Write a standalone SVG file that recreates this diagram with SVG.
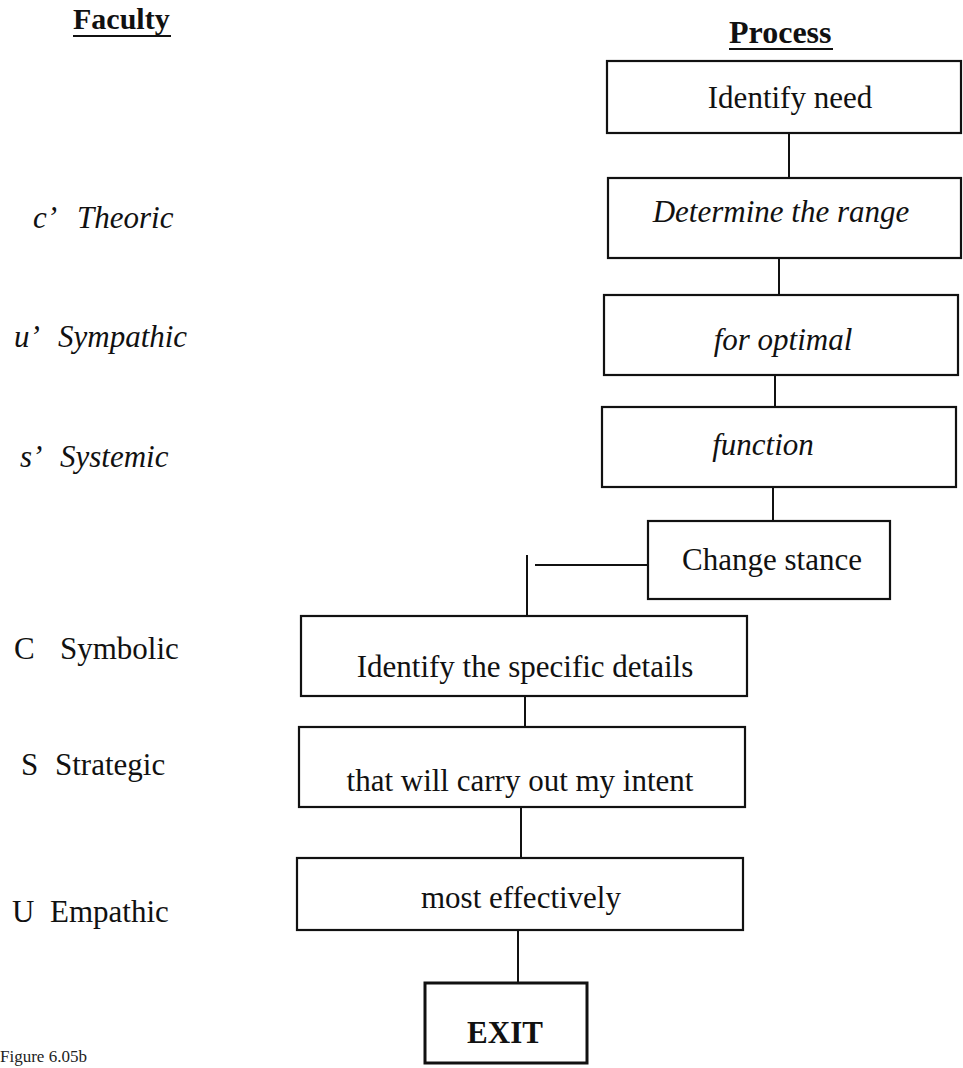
<svg xmlns="http://www.w3.org/2000/svg" width="963" height="1068" viewBox="0 0 963 1068">
  <style>
    .box { fill: #ffffff; stroke: #111111; stroke-width: 2.2; }
    .exit { fill: #ffffff; stroke: #111111; stroke-width: 3; }
    .wire { stroke: #111111; stroke-width: 2; fill: none; }
    .t { font-family: "Liberation Serif", "Times New Roman", serif; font-size: 31px; fill: #111111; }
    .it { font-style: italic; }
    .mid { text-anchor: middle; }
    .head { font-family: "Liberation Serif", "Times New Roman", serif; font-weight: bold; fill: #111111; }
    .rule { stroke: #111111; stroke-width: 2; }
    .cap { font-family: "Liberation Serif", "Times New Roman", serif; font-size: 17px; fill: #222222; }
  </style>

  <!-- column headings -->
  <g id="headings">
    <text class="head" x="73" y="29" font-size="30">Faculty</text>
    <line class="rule" x1="73" y1="36" x2="171" y2="36"/>
    <text class="head" x="729" y="43" font-size="32">Process</text>
    <line class="rule" x1="729" y1="49" x2="833" y2="49"/>
  </g>

  <!-- faculty labels -->
  <g id="faculties">
    <g id="fac-theoric"><text class="t it" x="33" y="228">c’</text><text class="t it" x="77" y="228">Theoric</text></g>
    <g id="fac-sympathic"><text class="t it" x="14" y="347">u’</text><text class="t it" x="58" y="347">Sympathic</text></g>
    <g id="fac-systemic"><text class="t it" x="20" y="467">s’</text><text class="t it" x="60" y="467">Systemic</text></g>
    <g id="fac-symbolic"><text class="t" x="14" y="659">C</text><text class="t" x="60" y="659">Symbolic</text></g>
    <g id="fac-strategic"><text class="t" x="21" y="775">S</text><text class="t" x="55" y="775">Strategic</text></g>
    <g id="fac-empathic"><text class="t" x="12" y="922">U</text><text class="t" x="50" y="922">Empathic</text></g>
  </g>

  <!-- connectors -->
  <g id="connectors">
    <line class="wire" x1="789" y1="133" x2="789" y2="178"/>
    <line class="wire" x1="779" y1="258" x2="779" y2="295"/>
    <line class="wire" x1="775" y1="375" x2="775" y2="407"/>
    <line class="wire" x1="773" y1="487" x2="773" y2="521"/>
    <line class="wire" x1="535" y1="565" x2="648" y2="565"/>
    <line class="wire" x1="527" y1="555" x2="527" y2="616"/>
    <line class="wire" x1="525" y1="696" x2="525" y2="727"/>
    <line class="wire" x1="521" y1="807" x2="521" y2="858"/>
    <line class="wire" x1="518" y1="930" x2="518" y2="983"/>
  </g>

  <!-- process steps -->
  <g id="step-identify-need">
    <rect class="box" x="607" y="61" width="354" height="72"/>
    <text class="t mid" x="790" y="108">Identify need</text>
  </g>
  <g id="step-determine-range">
    <rect class="box" x="608" y="178" width="353" height="80"/>
    <text class="t it mid" x="781" y="222">Determine the range</text>
  </g>
  <g id="step-for-optimal">
    <rect class="box" x="604" y="295" width="354" height="80"/>
    <text class="t it mid" x="783" y="350">for optimal</text>
  </g>
  <g id="step-function">
    <rect class="box" x="602" y="407" width="354" height="80"/>
    <text class="t it mid" x="763" y="455">function</text>
  </g>
  <g id="step-change-stance">
    <rect class="box" x="648" y="521" width="242" height="78"/>
    <text class="t mid" x="772" y="570">Change stance</text>
  </g>
  <g id="step-specific-details">
    <rect class="box" x="301" y="616" width="446" height="80"/>
    <text class="t mid" x="525" y="677">Identify the specific details</text>
  </g>
  <g id="step-carry-out">
    <rect class="box" x="299" y="727" width="446" height="80"/>
    <text class="t mid" x="520" y="791">that will carry out my intent</text>
  </g>
  <g id="step-effectively">
    <rect class="box" x="297" y="858" width="446" height="72"/>
    <text class="t mid" x="521" y="908">most effectively</text>
  </g>
  <g id="step-exit">
    <rect class="exit" x="425" y="983" width="162" height="80"/>
    <text class="t mid" x="505" y="1043" font-weight="bold">EXIT</text>
  </g>

  <!-- caption -->
  <g id="caption">
    <text class="cap" x="0" y="1062">Figure 6.05b</text>
  </g>
</svg>
